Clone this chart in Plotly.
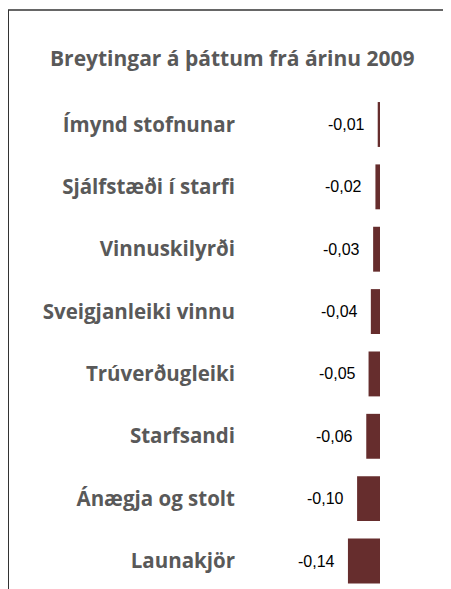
import plotly.graph_objects as go

categories = ["Ímynd stofnunar", "Sjálfstæði í starfi", "Vinnuskilyrði", "Sveigjanleiki vinnu",
              "Trúverðugleiki", "Starfsandi", "Ánægja og stolt", "Launakjör"]
values = [-0.01, -0.02, -0.03, -0.04, -0.05, -0.06, -0.10, -0.14]
value_labels = ["-0,01", "-0,02", "-0,03", "-0,04", "-0,05", "-0,06", "-0,10", "-0,14"]
title_text = "Breytingar á þáttum frá árinu 2009"

W, H = 451, 589
ml, mr, mt, mb = 228, 21, 85, 0
pw = W - ml - mr
ph = H - mt - mb
scale = 229.0  # px per unit
zero_px = 372
xr = [-(zero_px - ml) / scale, (W - mr - zero_px) / scale]

fig = go.Figure()
fig.add_trace(go.Bar(
    y=categories, x=values, orientation="h",
    marker=dict(color="#662d2d", line=dict(width=0)),
    width=0.72, hoverinfo="skip",
))

for c, v, t in zip(categories, values, value_labels):
    fig.add_annotation(x=v, y=c, text=t, showarrow=False, xanchor="right",
                       xshift=-11,
                       font=dict(family="Liberation Sans, Arial", size=16, color="#000000"))

def px_to_paper_x(px):
    return (px - ml) / pw

def py_to_paper_y(py):
    return (H - mb - py) / ph

# frame
fig.add_shape(type="line", xref="paper", yref="paper",
              x0=px_to_paper_x(0), x1=px_to_paper_x(470),
              y0=py_to_paper_y(2), y1=py_to_paper_y(2),
              line=dict(color="#333333", width=1.5))
fig.add_shape(type="line", xref="paper", yref="paper",
              x0=px_to_paper_x(0), x1=px_to_paper_x(0),
              y0=py_to_paper_y(2), y1=py_to_paper_y(620),
              line=dict(color="#333333", width=2))

fig.add_annotation(xref="paper", yref="paper", x=px_to_paper_x(224), y=py_to_paper_y(50),
                   text="<b>" + title_text + "</b>", showarrow=False,
                   xanchor="center", yanchor="middle",
                   font=dict(family="Open Sans", size=21, color="#595959"))

fig.update_layout(
    width=W, height=H,
    margin=dict(l=ml, r=mr, t=mt, b=mb, pad=0),
    paper_bgcolor="white", plot_bgcolor="white",
    showlegend=False,
    xaxis=dict(range=xr, visible=False, showgrid=False, zeroline=False, fixedrange=True),
    yaxis=dict(range=[7.577, -0.505], showgrid=False, zeroline=False, showline=False,
               ticks="", tickfont=dict(family="Open Sans", size=20.5, color="#595959", weight="bold"),
               fixedrange=True),
)

fig.write_html("out.html")
